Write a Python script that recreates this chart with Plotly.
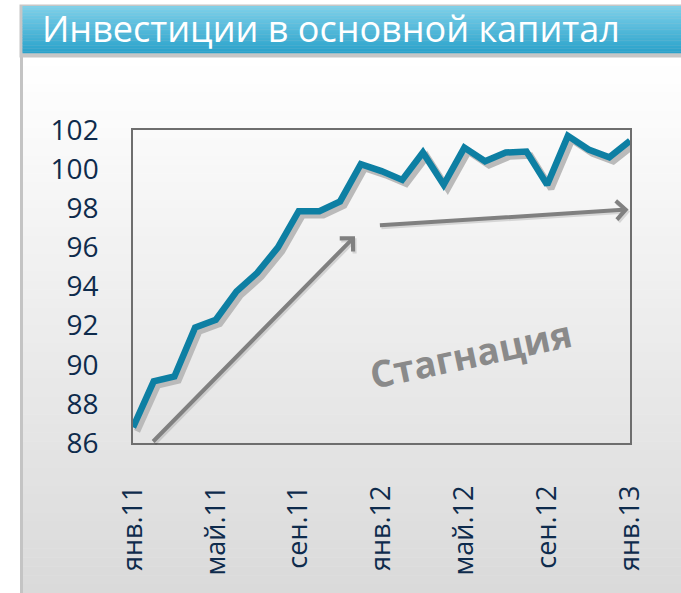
import plotly.graph_objects as go

# ---------------- data ----------------
months = ["янв.11", "фев.11", "мар.11", "апр.11", "май.11", "июн.11", "июл.11", "авг.11",
          "сен.11", "окт.11", "ноя.11", "дек.11", "янв.12", "фев.12", "мар.12", "апр.12",
          "май.12", "июн.12", "июл.12", "авг.12", "сен.12", "окт.12", "ноя.12", "дек.12",
          "янв.13"]
values = [86.8, 89.15, 89.4, 91.9, 92.3, 93.75, 94.7, 96.0, 97.85, 97.85, 98.35, 100.25,
          99.9, 99.45, 100.85, 99.2, 101.1, 100.4, 100.85, 100.9, 99.2, 101.7, 101.0, 100.6,
          101.45]
tick_labels = ["янв.11", "май.11", "сен.11", "янв.12", "май.12", "сен.12", "янв.13"]
y_ticks = [86, 88, 90, 92, 94, 96, 98, 100, 102]
title_text = "Инвестиции в основной капитал"
note_text = "Стагнация"

# ---------------- layout helpers ----------------
W, H = 681, 593
L, R, T, B = 133, 630, 130, 443


def fx(px):
    return (px - L) / (R - L)


def fy(py):
    return (B - py) / (B - T)


def lerp_hex(c1, c2, t):
    a = [int(c1[i:i + 2], 16) for i in (1, 3, 5)]
    b = [int(c2[i:i + 2], 16) for i in (1, 3, 5)]
    return "#" + "".join("%02x" % round(a[k] + (b[k] - a[k]) * t) for k in range(3))


shapes = []
# panel gradient background
n = 60
y0, y1 = 57, 593
for i in range(n):
    ya = y0 + (y1 - y0) * i / n
    yb = y0 + (y1 - y0) * (i + 1) / n + 0.5
    shapes.append(dict(type="rect", xref="paper", yref="paper", layer="below",
                       x0=fx(22), x1=fx(W + 2), y0=fy(ya), y1=fy(yb),
                       fillcolor=lerp_hex("#ffffff", "#dadada", i / (n - 1)), line_width=0))
# panel left border
shapes.append(dict(type="rect", xref="paper", yref="paper", layer="below",
                   x0=fx(20), x1=fx(23), y0=fy(53), y1=fy(H + 2),
                   fillcolor="#c4c4c4", line_width=0))
# title bar frame
shapes.append(dict(type="rect", xref="paper", yref="paper", layer="below",
                   x0=fx(19.5), x1=fx(W + 2), y0=fy(4.5), y1=fy(57.5),
                   fillcolor="#c6c6c6", line_width=0))
# title bar gradient
m = 30
for i in range(m):
    ya = 6 + (53 - 6) * i / m
    yb = 6 + (53 - 6) * (i + 1) / m + 0.3
    shapes.append(dict(type="rect", xref="paper", yref="paper", layer="below",
                       x0=fx(22.5), x1=fx(W + 2), y0=fy(ya), y1=fy(yb),
                       fillcolor=lerp_hex("#7dd0e9", "#2aa2cb", i / (m - 1)), line_width=0))

fig = go.Figure()

# shadow of the line (base axes, shifted ranges)
fig.add_trace(go.Scatter(x=months, y=values, mode="lines", xaxis="x", yaxis="y",
                         line=dict(color="#bababa", width=6.5), hoverinfo="skip",
                         showlegend=False))
# main line (overlay axes that carry ticks and frame)
fig.add_trace(go.Scatter(x=months, y=values, mode="lines", xaxis="x2", yaxis="y2",
                         line=dict(color="#0d7fa3", width=6.5), showlegend=False))

dx = 4 / ((R - L) / (len(months) - 1))
dy = 4 / ((B - T) / (y_ticks[-1] - y_ticks[0]))

tick_font = dict(family="Open Sans", color="#0e2b4c")

annotations = [
    dict(xref="paper", yref="paper", x=fx(40), y=fy(29), xanchor="left", yanchor="middle",
         text=title_text, showarrow=False,
         font=dict(family="Open Sans", size=36, color="#ffffff")),
    dict(xref="paper", yref="paper", x=fx(470), y=fy(353), xanchor="center", yanchor="middle",
         text=note_text, showarrow=False, textangle=-12,
         font=dict(family="Open Sans", size=37, color="#8a8a8a", weight="bold")),
]

arrows = [((0.9, 86.0), (10.72, 96.57)), ((11.85, 97.12), (23.93, 97.94))]
for (tx, ty), (hx, hy) in arrows:
    annotations.append(dict(xref="x2", yref="y2", axref="x2", ayref="y2",
                            x=hx, y=hy, ax=tx, ay=ty, text="", showarrow=True,
                            arrowhead=4, arrowsize=0.9, arrowwidth=4,
                            arrowcolor="rgba(0,0,0,0.12)", xshift=1.5, yshift=-2))
    annotations.append(dict(xref="x2", yref="y2", axref="x2", ayref="y2",
                            x=hx, y=hy, ax=tx, ay=ty, text="", showarrow=True,
                            arrowhead=4, arrowsize=0.9, arrowwidth=4,
                            arrowcolor="#808080"))

fig.update_layout(
    template="none",
    width=W, height=H,
    margin=dict(l=L, r=W - R, t=T, b=H - B, autoexpand=False),
    paper_bgcolor="#ffffff",
    plot_bgcolor="rgba(0,0,0,0)",
    showlegend=False,
    shapes=shapes,
    annotations=annotations,
    xaxis=dict(type="category", visible=False, range=[-dx, len(months) - 1 - dx],
               showgrid=False, zeroline=False, automargin=False),
    yaxis=dict(visible=False, range=[y_ticks[0] + dy, y_ticks[-1] + dy],
               showgrid=False, zeroline=False, automargin=False),
    xaxis2=dict(type="category", overlaying="x", side="bottom",
                range=[0, len(months) - 1], showgrid=False, zeroline=False,
                tickmode="array", tickvals=tick_labels, ticktext=tick_labels,
                tickangle=-90, ticks="", ticklabelstandoff=30,
                tickfont=dict(size=27, **tick_font),
                showline=True, mirror=True, linecolor="#6e6e6e", linewidth=1.5,
                automargin=False),
    yaxis2=dict(overlaying="y", side="left", range=[y_ticks[0], y_ticks[-1]],
                showgrid=False, zeroline=False,
                tickmode="array", tickvals=y_ticks, ticktext=[str(v) for v in y_ticks],
                ticks="", ticklabelstandoff=27,
                tickfont=dict(size=28, **tick_font),
                showline=True, mirror=True, linecolor="#6e6e6e", linewidth=1.5,
                automargin=False),
)

fig.write_html("out.html", config={"displayModeBar": False},
               post_script="document.body.style.margin='0px';document.body.style.overflow='hidden';")
